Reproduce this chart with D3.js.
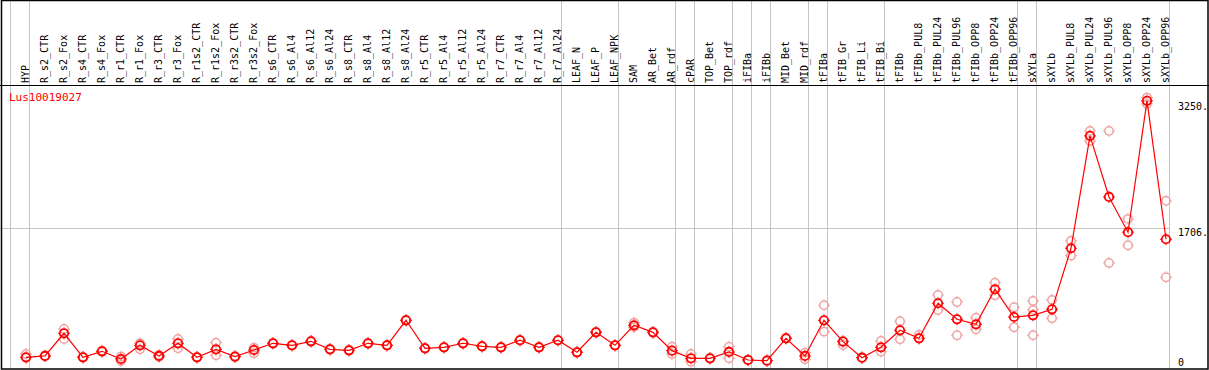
<!DOCTYPE html>
<html>
<head>
<meta charset="utf-8">
<script src="https://cdn.jsdelivr.net/npm/d3@7"></script>
<style>
  body { margin: 0; background: #fff; }
  svg text { font-family: "DejaVu Sans Mono", monospace; font-size: 10px; }
</style>
</head>
<body>
<div id="chart"></div>
<script>
var width = 1209,
    height = 370;

var geneName = "Lus10019027";

var samples = ["HYP","R_s2_CTR","R_s2_Fox","R_s4_CTR","R_s4_Fox","R_r1_CTR","R_r1_Fox","R_r3_CTR","R_r3_Fox",
  "R_r1s2_CTR","R_r1s2_Fox","R_r3s2_CTR","R_r3s2_Fox","R_s6_CTR","R_s6_Al4","R_s6_Al12","R_s6_Al24",
  "R_s8_CTR","R_s8_Al4","R_s8_Al12","R_s8_Al24","R_r5_CTR","R_r5_Al4","R_r5_Al12","R_r5_Al24",
  "R_r7_CTR","R_r7_Al4","R_r7_Al12","R_r7_Al24","LEAF_N","LEAF_P","LEAF_NPK","SAM","AR_Bet","AR_rdf",
  "cPAR","TOP_Bet","TOP_rdf","iFIBa","iFIBb","MID_Bet","MID_rdf","tFIBa","tFIB_Gr","tFIB_Li","tFIB_Bi",
  "tFIBb","tFIBb_PUL8","tFIBb_PUL24","tFIBb_PUL96","tFIBb_OPP8","tFIBb_OPP24","tFIBb_OPP96",
  "sXYLa","sXYLb","sXYLb_PUL8","sXYLb_PUL24","sXYLb_PUL96","sXYLb_OPP8","sXYLb_OPP24","sXYLb_OPP96"];

var means = [131,147,424,131,204,110,277,147,302,131,228,139,220,302,277,326,228,216,302,277,
  583,241,253,302,265,253,339,253,339,192,436,277,522,436,212,118,118,196,98,90,
  363,147,583,322,126,253,461,363,791,595,534,962,623,644,717,1463,2836,2090,1659,3264,1573];

var reps = [[171,125],[150,145],[477,355],[128,135],[210,198],[140,85],[302,228],[160,135],[355,241],
  [128,134],[310,155],[145,133],[249,180],[300,305],[280,274],[330,322],[232,224],[220,212],[305,298],[280,274],
  [586,580],[244,238],[255,250],[305,299],[268,262],[256,250],[342,336],[256,250],[342,336],[195,189],
  [439,433],[280,274],[554,500],[440,432],[261,171],[171,77],[121,115],[261,118],[101,95],[93,87],
  [367,359],[187,106],[766,444],[330,281],[129,123],[330,200],[571,351],[403,360],[892,709],[807,400],
  [615,473],[1043,889],[742,498],[819,709,400],[831,607],[1553,1373],[2897,2775],[2897,1284],
  [1822,1500],[3304,3227],[2042,1109]];

// group boundaries (column index where a new group starts)
var groupBreaks = [0,1,29,32,35,36,38,39,40,42,43,46,53,54,61];

var yTicks = [0, 1706, 3250];
var yTickLabels = ["0", "1706.", "3250."];

var plotLeft = 11, plotRight = 1170, headerBottom = 85, plotBottom = 368;

var x = d3.scaleBand().domain(samples).range([plotLeft, plotRight]).padding(0);
var bw = x.bandwidth();
var y = d3.scaleLinear().domain([0, 3250]).range([plotBottom, 102]);

var px = function(s) { return x(s) + 15; };

var svg = d3.select("#chart").append("svg")
  .attr("width", width)
  .attr("height", height);

svg.append("rect").attr("width", width).attr("height", height).attr("fill", "#fff");

// vertical group lines
svg.selectAll("line.grp")
  .data(groupBreaks)
  .enter().append("line")
  .attr("class", "grp")
  .attr("x1", function(d) { return plotLeft + d * bw - 0.5; })
  .attr("x2", function(d) { return plotLeft + d * bw - 0.5; })
  .attr("y1", 0).attr("y2", plotBottom)
  .attr("stroke", "#c4c4c4").attr("stroke-width", 1);

// horizontal grid line (middle tick only)
svg.selectAll("line.hgrid")
  .data(yTicks.filter(function(d) { return d === 1706; }))
  .enter().append("line")
  .attr("class", "hgrid")
  .attr("x1", 0).attr("x2", plotRight)
  .attr("y1", function(d) { return Math.round(y(d)) + 0.5; })
  .attr("y2", function(d) { return Math.round(y(d)) + 0.5; })
  .attr("stroke", "#c4c4c4");

// frame
svg.append("rect")
  .attr("x", 1.5).attr("y", 0.5)
  .attr("width", width - 2.5).attr("height", plotBottom + 0.5)
  .attr("fill", "none").attr("stroke", "#000").attr("stroke-width", 1.5);
svg.append("line")
  .attr("x1", 0).attr("x2", width)
  .attr("y1", headerBottom + 0.5).attr("y2", headerBottom + 0.5)
  .attr("stroke", "#000");

// sample labels
svg.selectAll("text.lab")
  .data(samples)
  .enter().append("text")
  .attr("class", "lab")
  .attr("transform", function(d) { return "translate(" + (x(d) + 17.5) + "," + (headerBottom - 2) + ") rotate(-90)"; })
  .attr("fill", "#000")
  .text(function(d) { return d; });

// y tick labels
svg.selectAll("text.ytick")
  .data(yTicks)
  .enter().append("text")
  .attr("class", "ytick")
  .attr("x", 1178)
  .attr("y", function(d, i) { return Math.min(y(d) + 8, 366); })
  .attr("fill", "#000")
  .text(function(d, i) { return yTickLabels[i]; });

svg.append("text")
  .attr("x", 9).attr("y", 101)
  .attr("fill", "#ff0000")
  .style("font-size", "11px")
  .text(geneName);

var drawMarker = function(g, color, sw) {
  g.append("circle").attr("r", 4.2).attr("fill", "none").attr("stroke", color).attr("stroke-width", sw);
  g.append("path")
    .attr("d", "M0,-6V-5M0,5V6M-6,0H-5M5,0H6")
    .attr("stroke", color).attr("stroke-width", 1);
};

// replicate points
var repData = [];
samples.forEach(function(s, i) {
  reps[i].forEach(function(v) { repData.push({s: s, v: v}); });
});
svg.selectAll("g.rep")
  .data(repData)
  .enter().append("g")
  .attr("class", "rep")
  .attr("transform", function(d) { return "translate(" + px(d.s) + "," + y(d.v) + ")"; })
  .each(function() { drawMarker(d3.select(this), "#f0a0a0", 1.5); });

// mean line
var line = d3.line()
  .x(function(d, i) { return px(samples[i]); })
  .y(function(d) { return y(d); });
svg.append("path")
  .datum(means)
  .attr("d", line)
  .attr("fill", "none")
  .attr("stroke", "#ff0000")
  .attr("stroke-width", 1.2);

svg.selectAll("g.mean")
  .data(means)
  .enter().append("g")
  .attr("class", "mean")
  .attr("transform", function(d, i) { return "translate(" + px(samples[i]) + "," + y(d) + ")"; })
  .each(function() { drawMarker(d3.select(this), "#ff0000", 1.8); });
</script>
</body>
</html>
